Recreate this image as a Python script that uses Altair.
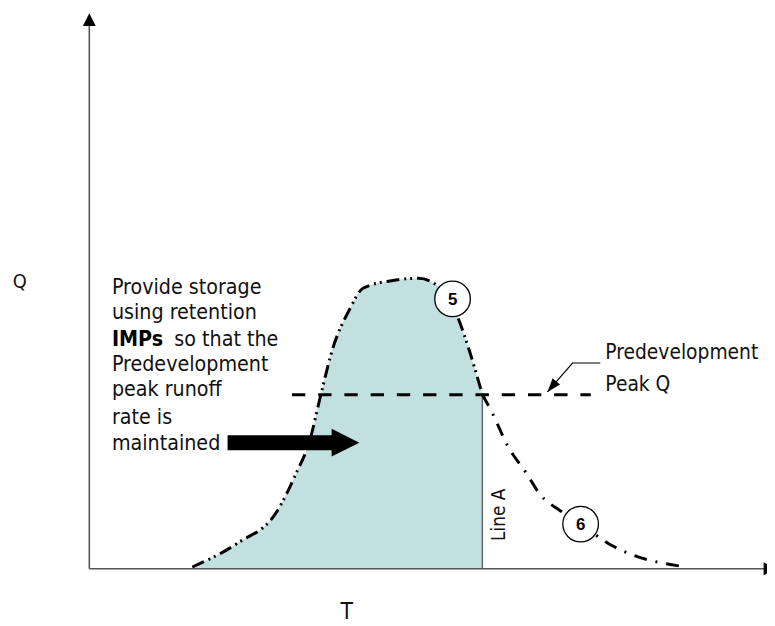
import altair as alt
import pandas as pd

# ---------------- data (chart units: T horizontal, Q vertical) ----------------
# developed hydrograph, rising limb up to Line A (curve "5")
curve5_T = [15.2, 21.9, 27.7, 30.4, 32.6, 34.0, 36.0, 38.4, 40.4, 44.8, 48.6, 51.5, 54.4, 55.9, 58.0]
curve5_Q = [0.3, 4.6, 10.3, 16.8, 23.3, 30.4, 39.8, 46.5, 50.3, 51.7, 52.1, 50.6, 45.0, 39.8, 31.2]
# falling limb after Line A (curve "6")
curve6_T = [58.0, 59.4, 61.7, 64.5, 66.4, 69.6, 72.5, 76.9, 80.3, 84.2, 87.6]
curve6_Q = [31.2, 28.1, 22.1, 17.1, 13.5, 10.3, 8.0, 4.3, 2.4, 1.1, 0.4]

peak_Q = 31.2
peak_T = [29.9, 74.0]
lineA_T = 58.0

circle_labels = ["5", "6"]
circle_T = [53.6, 72.5]
circle_Q = [48.4, 8.0]

left_labels = ["Provide storage", "using retention", "so that the", "Predevelopment",
               "peak runoff", "rate is", "maintained"]
left_T = [3.33, 3.33, 12.54, 3.33, 3.33, 3.33, 3.33]
left_Q = [49.36, 44.75, 40.01, 35.45, 31.01, 25.98, 21.25]
bold_label = ["IMPs"]
bold_T = [3.33]
bold_Q = [40.01]

note_labels = ["Predevelopment", "Peak Q"]
note_T = [76.15, 76.15]
note_Q = [37.65, 31.90]

leader_T = [75.4, 71.3, 67.6]
leader_Q = [36.9, 36.9, 31.7]

arrow_T = [20.4, 35.9]
arrow_head_T = [37.8]
arrow_Q = 22.6

FONT = "'DejaVu Sans Condensed', 'Liberation Sans Narrow', sans-serif"
BOLD_FONT = "'Liberation Sans', Arial, sans-serif"
FILL = "#c2e0df"
AXIS = "#555555"

xs = alt.Scale(domain=[-12, 100], zero=False, nice=False)
ys = alt.Scale(domain=[-9.7, 100], zero=False, nice=False)


def X(f="T"):
    return alt.X(f"{f}:Q", scale=xs, axis=None)


def Y(f="Q"):
    return alt.Y(f"{f}:Q", scale=ys, axis=None)


c5 = pd.DataFrame({"T": curve5_T, "Q": curve5_Q, "Q0": [0] * len(curve5_T)})
c6 = pd.DataFrame({"T": curve6_T, "Q": curve6_Q})

area = alt.Chart(c5).mark_area(color=FILL, opacity=1, interpolate="monotone").encode(
    x=X(), y=Y(), y2="Q0:Q")

line5 = alt.Chart(c5).mark_line(color="black", strokeWidth=3, interpolate="monotone",
                                strokeDash=[13, 5, 2, 4, 2, 5]).encode(x=X(), y=Y())
line6 = alt.Chart(c6).mark_line(color="black", strokeWidth=3, interpolate="monotone",
                                strokeDash=[13, 9, 2, 9]).encode(x=X(), y=Y())

# axes
axes_df = pd.DataFrame({"T": [0, 0], "Q": [0, 0], "T2": [0, 99.6], "Q2": [97.5, 0]})
axes = alt.Chart(axes_df).mark_rule(color=AXIS, strokeWidth=1.6).encode(
    x=X(), y=Y(), x2="T2:Q", y2="Q2:Q")
heads_df = pd.DataFrame({"T": [0, 101.4], "Q": [99.65, 0], "ang": [0, 90]})
heads = alt.Chart(heads_df).mark_point(shape="M0,0L1,2L-1,2Z", filled=True, size=169,
                                       color="black", opacity=1, strokeWidth=0).encode(
    x=X(), y=Y(), angle=alt.Angle("ang:Q", scale=None))

# Line A
la_df = pd.DataFrame({"T": [lineA_T], "Q": [0], "Q2": [peak_Q]})
lineA = alt.Chart(la_df).mark_rule(color="#666666", strokeWidth=1.5).encode(
    x=X(), y=Y(), y2="Q2:Q")

# predevelopment peak line
pk_df = pd.DataFrame({"T": [peak_T[0]], "T2": [peak_T[1]], "Q": [peak_Q]})
peak = alt.Chart(pk_df).mark_rule(color="black", strokeWidth=3, strokeDash=[13.5, 13]).encode(
    x=X(), x2="T2:Q", y=Y())

# big arrow
ab_df = pd.DataFrame({"T": [arrow_T[0]], "T2": [arrow_T[1]], "Q": [arrow_Q]})
arrow_body = alt.Chart(ab_df).mark_rule(color="black", strokeWidth=15).encode(
    x=X(), x2="T2:Q", y=Y())
ah_df = pd.DataFrame({"T": arrow_head_T, "Q": [arrow_Q]})
arrow_head = alt.Chart(ah_df).mark_point(shape="M-1,-1L1,0L-1,1Z", filled=True, size=784,
                                         color="black", opacity=1, strokeWidth=0).encode(
    x=X(), y=Y())

# leader for note
ld_df = pd.DataFrame({"T": leader_T, "Q": leader_Q, "o": [0, 1, 2]})
leader = alt.Chart(ld_df).mark_line(color="black", strokeWidth=1.2).encode(
    x=X(), y=Y(), order="o:Q")
lh_df = pd.DataFrame({"T": [leader_T[-1]], "Q": [leader_Q[-1]]})
leader_head = alt.Chart(lh_df).mark_point(shape="M0,0L0.7,2L-0.7,2Z", filled=True, size=196,
                                          color="black", opacity=1, strokeWidth=0,
                                          angle=220).encode(x=X(), y=Y())

# circles
cc_df = pd.DataFrame({"T": circle_T, "Q": circle_Q, "label": circle_labels})
circles = alt.Chart(cc_df).mark_point(shape="circle", filled=True, fill="white", stroke="black",
                                      strokeWidth=1.3, size=1296, opacity=1).encode(x=X(), y=Y())
circle_text = alt.Chart(cc_df).mark_text(font=BOLD_FONT, fontWeight="bold", fontSize=17,
                                         baseline="middle", align="center", dy=1,
                                         color="black").encode(x=X(), y=Y(), text="label:N")

# texts
lt_df = pd.DataFrame({"T": left_T, "Q": left_Q, "label": left_labels})
left_text = alt.Chart(lt_df).mark_text(font=FONT, fontSize=21.5, align="left",
                                       baseline="alphabetic", color="#111111").encode(
    x=X(), y=Y(), text="label:N")
bt_df = pd.DataFrame({"T": bold_T, "Q": bold_Q, "label": bold_label})
bold_text = alt.Chart(bt_df).mark_text(font=FONT, fontSize=21.5, fontWeight="bold", align="left",
                                       baseline="alphabetic", color="black").encode(
    x=X(), y=Y(), text="label:N")
nt_df = pd.DataFrame({"T": note_T, "Q": note_Q, "label": note_labels})
note_text = alt.Chart(nt_df).mark_text(font=FONT, fontSize=21, align="left",
                                       baseline="alphabetic", color="#111111").encode(
    x=X(), y=Y(), text="label:N")

ax_df = pd.DataFrame({"T": [-10.25, 38.0], "Q": [50.43, -9.0], "label": ["Q", "T"],
                      "fs": [20, 23]})
axis_text = alt.Chart(ax_df).mark_text(font=FONT, align="center", baseline="alphabetic",
                                       color="#111111").encode(
    x=X(), y=Y(), text="label:N", size=alt.Size("fs:Q", scale=None, legend=None))

lat_df = pd.DataFrame({"T": [61.3], "Q": [4.99], "label": ["Line A"]})
lineA_text = alt.Chart(lat_df).mark_text(font=FONT, fontSize=19, align="left", angle=270,
                                         baseline="alphabetic", color="#111111").encode(
    x=X(), y=Y(), text="label:N")

chart = alt.layer(
    area, lineA, axes, heads, peak, line5, line6, arrow_body, arrow_head,
    leader, leader_head, circles, circle_text, left_text, bold_text, note_text,
    axis_text, lineA_text
).properties(
    width=767, height=618, padding=0, autosize=alt.AutoSizeParams(type="none")
).configure_view(stroke=None)

chart.save("out.html", embed_options={"renderer": "svg", "actions": False})
